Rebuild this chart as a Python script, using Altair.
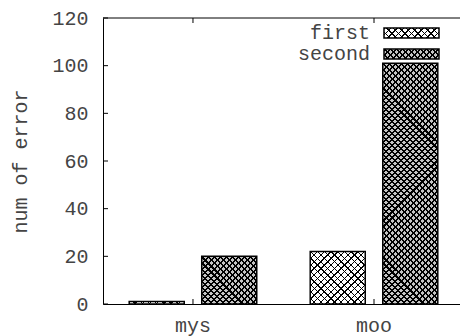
import altair as alt
import pandas as pd

# ---- data ----
groups = ["mys", "moo"]
series = ["first", "second"]
first_values = [1, 22]
second_values = [20, 101]
y_ticks = [0, 20, 40, 60, 80, 100, 120]

rows = []
for g, a, b in zip(groups, first_values, second_values):
    rows.append({"group": g, "series": "first", "value": a})
    rows.append({"group": g, "series": "second", "value": b})
df = pd.DataFrame(rows)

W, H = 357, 286
YMAX = 120
BAR_W = 55
FONT = "Liberation Mono"
TXT = "#444444"
CLEAR = "rgba(0,0,0,0)"

# pattern styles (gnuplot-like fill patterns drawn with striped gradients)
PATTERN = {
    "first": {"period": 6.8, "frac": 0.2, "bg": "white"},
    "second": {"period": 6.0, "frac": 0.34, "bg": "#c4c4c4"},
}


def diag(w, h, period, frac, on, off, reverse=False):
    """45-degree stripes on a w x h box (gradient in bounding-box units)."""
    w = max(w, 0.5)
    h = max(h, 0.5)
    s = (w + h) / (w * w + h * h)
    a, b = s * w, s * h
    n = max(1, int(round((w + h) / period)))
    stops = []
    for k in range(n):
        o0 = k / n
        o1 = (k + frac) / n
        o2 = (k + 1) / n
        stops += [
            {"offset": o0, "color": on},
            {"offset": o1, "color": on},
            {"offset": o1, "color": off},
            {"offset": o2, "color": off},
        ]
    if reverse:
        return {"gradient": "linear", "x1": 1, "y1": 0, "x2": 1 - a, "y2": b, "stops": stops}
    return {"gradient": "linear", "x1": 0, "y1": 0, "x2": a, "y2": b, "stops": stops}


x_enc = alt.X(
    "group:N",
    sort=groups,
    scale=alt.Scale(domain=groups, paddingInner=0.2, paddingOuter=0.086, align=0.564),
    axis=alt.Axis(
        title=None, labelAngle=0, labelFont=FONT, labelFontSize=20, labelColor=TXT,
        labelPadding=11, tickSize=0, domainColor="black", domainWidth=1, grid=False,
    ),
)
xo_enc = alt.XOffset(
    "series:N",
    scale=alt.Scale(domain=series, paddingInner=0.2414, paddingOuter=0.119),
)
y_enc = alt.Y(
    "value:Q",
    scale=alt.Scale(domain=[0, YMAX], nice=False),
    axis=alt.Axis(
        values=y_ticks, title="num of error", titleFont=FONT, titleFontSize=20,
        titleFontWeight="normal", titleColor=TXT, titleX=-77, titleY=H / 2,
        titleAngle=270, titleBaseline="alphabetic", titleAlign="center",
        labelFont=FONT, labelFontSize=20, labelColor=TXT, labelPadding=15,
        tickSize=0, domainColor="black", domainWidth=1, grid=False,
    ),
)

base = alt.Chart(df).encode(x=x_enc, xOffset=xo_enc, y=y_enc)

bar_layers = []
for _, r in df.iterrows():
    p = PATTERN[r["series"]]
    h = r["value"] * H / YMAX
    g1 = diag(BAR_W, h, p["period"], p["frac"], "black", p["bg"])
    g2 = diag(BAR_W, h, p["period"], p["frac"], "black", CLEAR, reverse=True)
    sel = base.transform_filter(
        (alt.datum.group == r["group"]) & (alt.datum.series == r["series"])
    )
    bar_layers.append(sel.mark_bar(fill=g1))
    bar_layers.append(sel.mark_bar(fill=g2, stroke="black", strokeWidth=1.5))

frame_top = alt.Chart(pd.DataFrame({"k": [0]})).mark_rule(color="black", strokeWidth=1).encode(
    x=alt.value(0), x2=alt.value(W), y=alt.value(0)
)

ytick_df = pd.DataFrame({"value": y_ticks})
yticks = alt.Chart(ytick_df).mark_rule(color="black").encode(
    y="value:Q", x=alt.value(0), x2=alt.value(5)
)

xtick_df = pd.DataFrame({"group": groups})
xticks_b = alt.Chart(xtick_df).mark_rule(color="black").encode(
    x=alt.X("group:N", bandPosition=0.5), y=alt.value(H), y2=alt.value(H - 5)
)
xticks_t = alt.Chart(xtick_df).mark_rule(color="black").encode(
    x=alt.X("group:N", bandPosition=0.5), y=alt.value(0), y2=alt.value(5)
)

main = alt.layer(*bar_layers, yticks, xticks_b, xticks_t, frame_top)

# ---- legend (gnuplot style: label left of swatch) ----
LEG_X0, LEG_X1, LEG_TX = 281, 336, 267
LEG_H = 10
leg_df = pd.DataFrame({"series": series})
leg_scale = alt.Scale(type="band", domain=series, range=[10, 41], paddingInner=0.524, paddingOuter=0)
leg_y = alt.Y("series:N", scale=leg_scale, axis=None)
leg_base = alt.Chart(leg_df)
leg_layers = []
for s in series:
    p = PATTERN[s]
    g1 = diag(LEG_X1 - LEG_X0, LEG_H, p["period"], p["frac"], "black", p["bg"])
    g2 = diag(LEG_X1 - LEG_X0, LEG_H, p["period"], p["frac"], "black", CLEAR, reverse=True)
    sel = leg_base.transform_filter(alt.datum.series == s)
    leg_layers.append(sel.mark_rect(fill=g1).encode(y=leg_y, x=alt.value(LEG_X0), x2=alt.value(LEG_X1)))
    leg_layers.append(
        sel.mark_rect(fill=g2, stroke="black", strokeWidth=1.5).encode(
            y=leg_y, x=alt.value(LEG_X0), x2=alt.value(LEG_X1)
        )
    )
leg_text = leg_base.mark_text(
    align="right", baseline="middle", font=FONT, fontSize=20, color=TXT
).encode(
    y=alt.Y("series:N", bandPosition=0.5, scale=leg_scale, axis=None),
    x=alt.value(LEG_TX),
    text="series:N",
)
legend = alt.layer(*leg_layers, leg_text)

chart = (
    alt.layer(main, legend)
    .resolve_scale(y="independent")
    .properties(
        width=W,
        height=H,
        autosize=alt.AutoSizeParams(type="none"),
        padding={"left": 103, "top": 18, "right": 0, "bottom": 32},
    )
    .configure_view(stroke=None)
)

chart.save("out.html", embed_options={"renderer": "svg", "actions": False})
